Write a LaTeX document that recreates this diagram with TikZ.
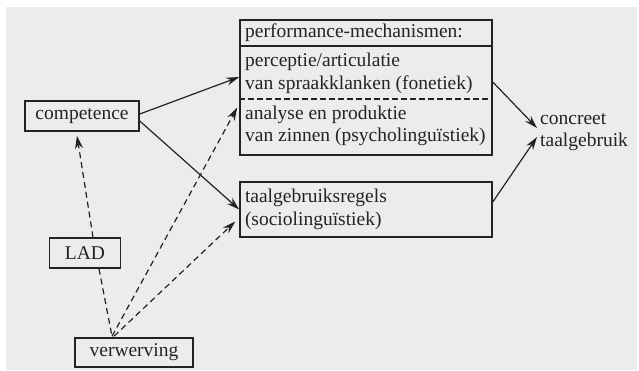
\documentclass[tikz,border=0pt]{standalone}
\usepackage{fontspec}
\setmainfont{Liberation Serif}
\usetikzlibrary{arrows.meta}
\definecolor{bg}{RGB}{236,236,236}
\definecolor{ink}{RGB}{35,35,35}
\tikzset{
  box/.style={draw=ink, line width=1.5pt, inner sep=0pt, text=ink},
  lbl/.style={inner sep=0pt, text=ink, align=left, anchor=west},
  solidarrow/.style={draw=ink, line width=1.2pt, -{Stealth[length=13pt,width=8pt]}},
  dasharrow/.style={draw=ink, line width=1.2pt, dash pattern=on 6pt off 4pt, -{Stealth[length=13pt,width=8pt]}},
  dashline/.style={draw=ink, line width=1.2pt, dash pattern=on 6pt off 4pt},
}
\begin{document}
\begin{tikzpicture}[x=1pt,y=-1pt,font=\fontsize{19.5}{22.5}\selectfont]
\useasboundingbox (0,0) rectangle (639,370);
\fill[white] (0,0) rectangle (639,370);
\fill[bg] (6,7) rectangle (637,370);

% boxes
\node[box, minimum width=114pt, minimum height=30pt] (comp) at (82,116) {competence};
\node[box, minimum width=71pt, minimum height=30pt] (lad) at (85,253) {LAD};
\node[box, minimum width=118pt, minimum height=29pt] (verw) at (134,352.5) {verwerving};
\node[box, minimum width=252pt, minimum height=55pt, text width=242pt, inner xsep=5pt, align=left] (taalg) at (366,209.5) {taalgebruiksregels\\(sociolinguïstiek)};
\node[box, minimum width=252pt, minimum height=135pt] (perf) at (366,87.5) {};
\draw[draw=ink, line width=1.5pt] (perf.west |- 0,46) -- (perf.east |- 0,46);
\draw[draw=ink, line width=1.1pt, dash pattern=on 6pt off 3pt] (perf.west |- 0,99) -- (perf.east |- 0,99);
\node[lbl] (head) at (245,33) {performance-mechanismen:};
\node[lbl] (perc) at (245,73.5) {perceptie/articulatie\\van spraakklanken (fonetiek)};
\node[lbl] (anal) at (245,126) {analyse en produktie\\van zinnen (psycholinguïstiek)};
\node[lbl] (conc) at (540,132) {concreet\\taalgebruik};

% solid connectors
\draw[solidarrow] ([yshift=2pt]comp.east) -- ([yshift=10.5pt]perf.west);
\draw[solidarrow] ([yshift=-5pt]comp.east) -- (taalg.west);
\draw[solidarrow] ([yshift=5.5pt]perf.east) -- ([xshift=-3pt,yshift=4pt]conc.west);
\draw[solidarrow] ([yshift=7.5pt]taalg.east) -- ([xshift=-3pt,yshift=-5pt]conc.west);

% dashed connectors
\coordinate (vtop) at ([xshift=-22pt,yshift=1pt]verw.north);
\draw[dasharrow] ([xshift=8pt]lad.north) -- ([xshift=-5pt,yshift=-4pt]comp.south);
\draw[dashline] ([xshift=14pt]lad.south) -- (vtop);
\draw[dasharrow] (vtop) -- ([xshift=-2pt,yshift=-20pt]perf.west);
\draw[dasharrow] ([xshift=2pt]vtop) -- ([xshift=-4pt,yshift=-12pt]taalg.west);
\end{tikzpicture}
\end{document}
